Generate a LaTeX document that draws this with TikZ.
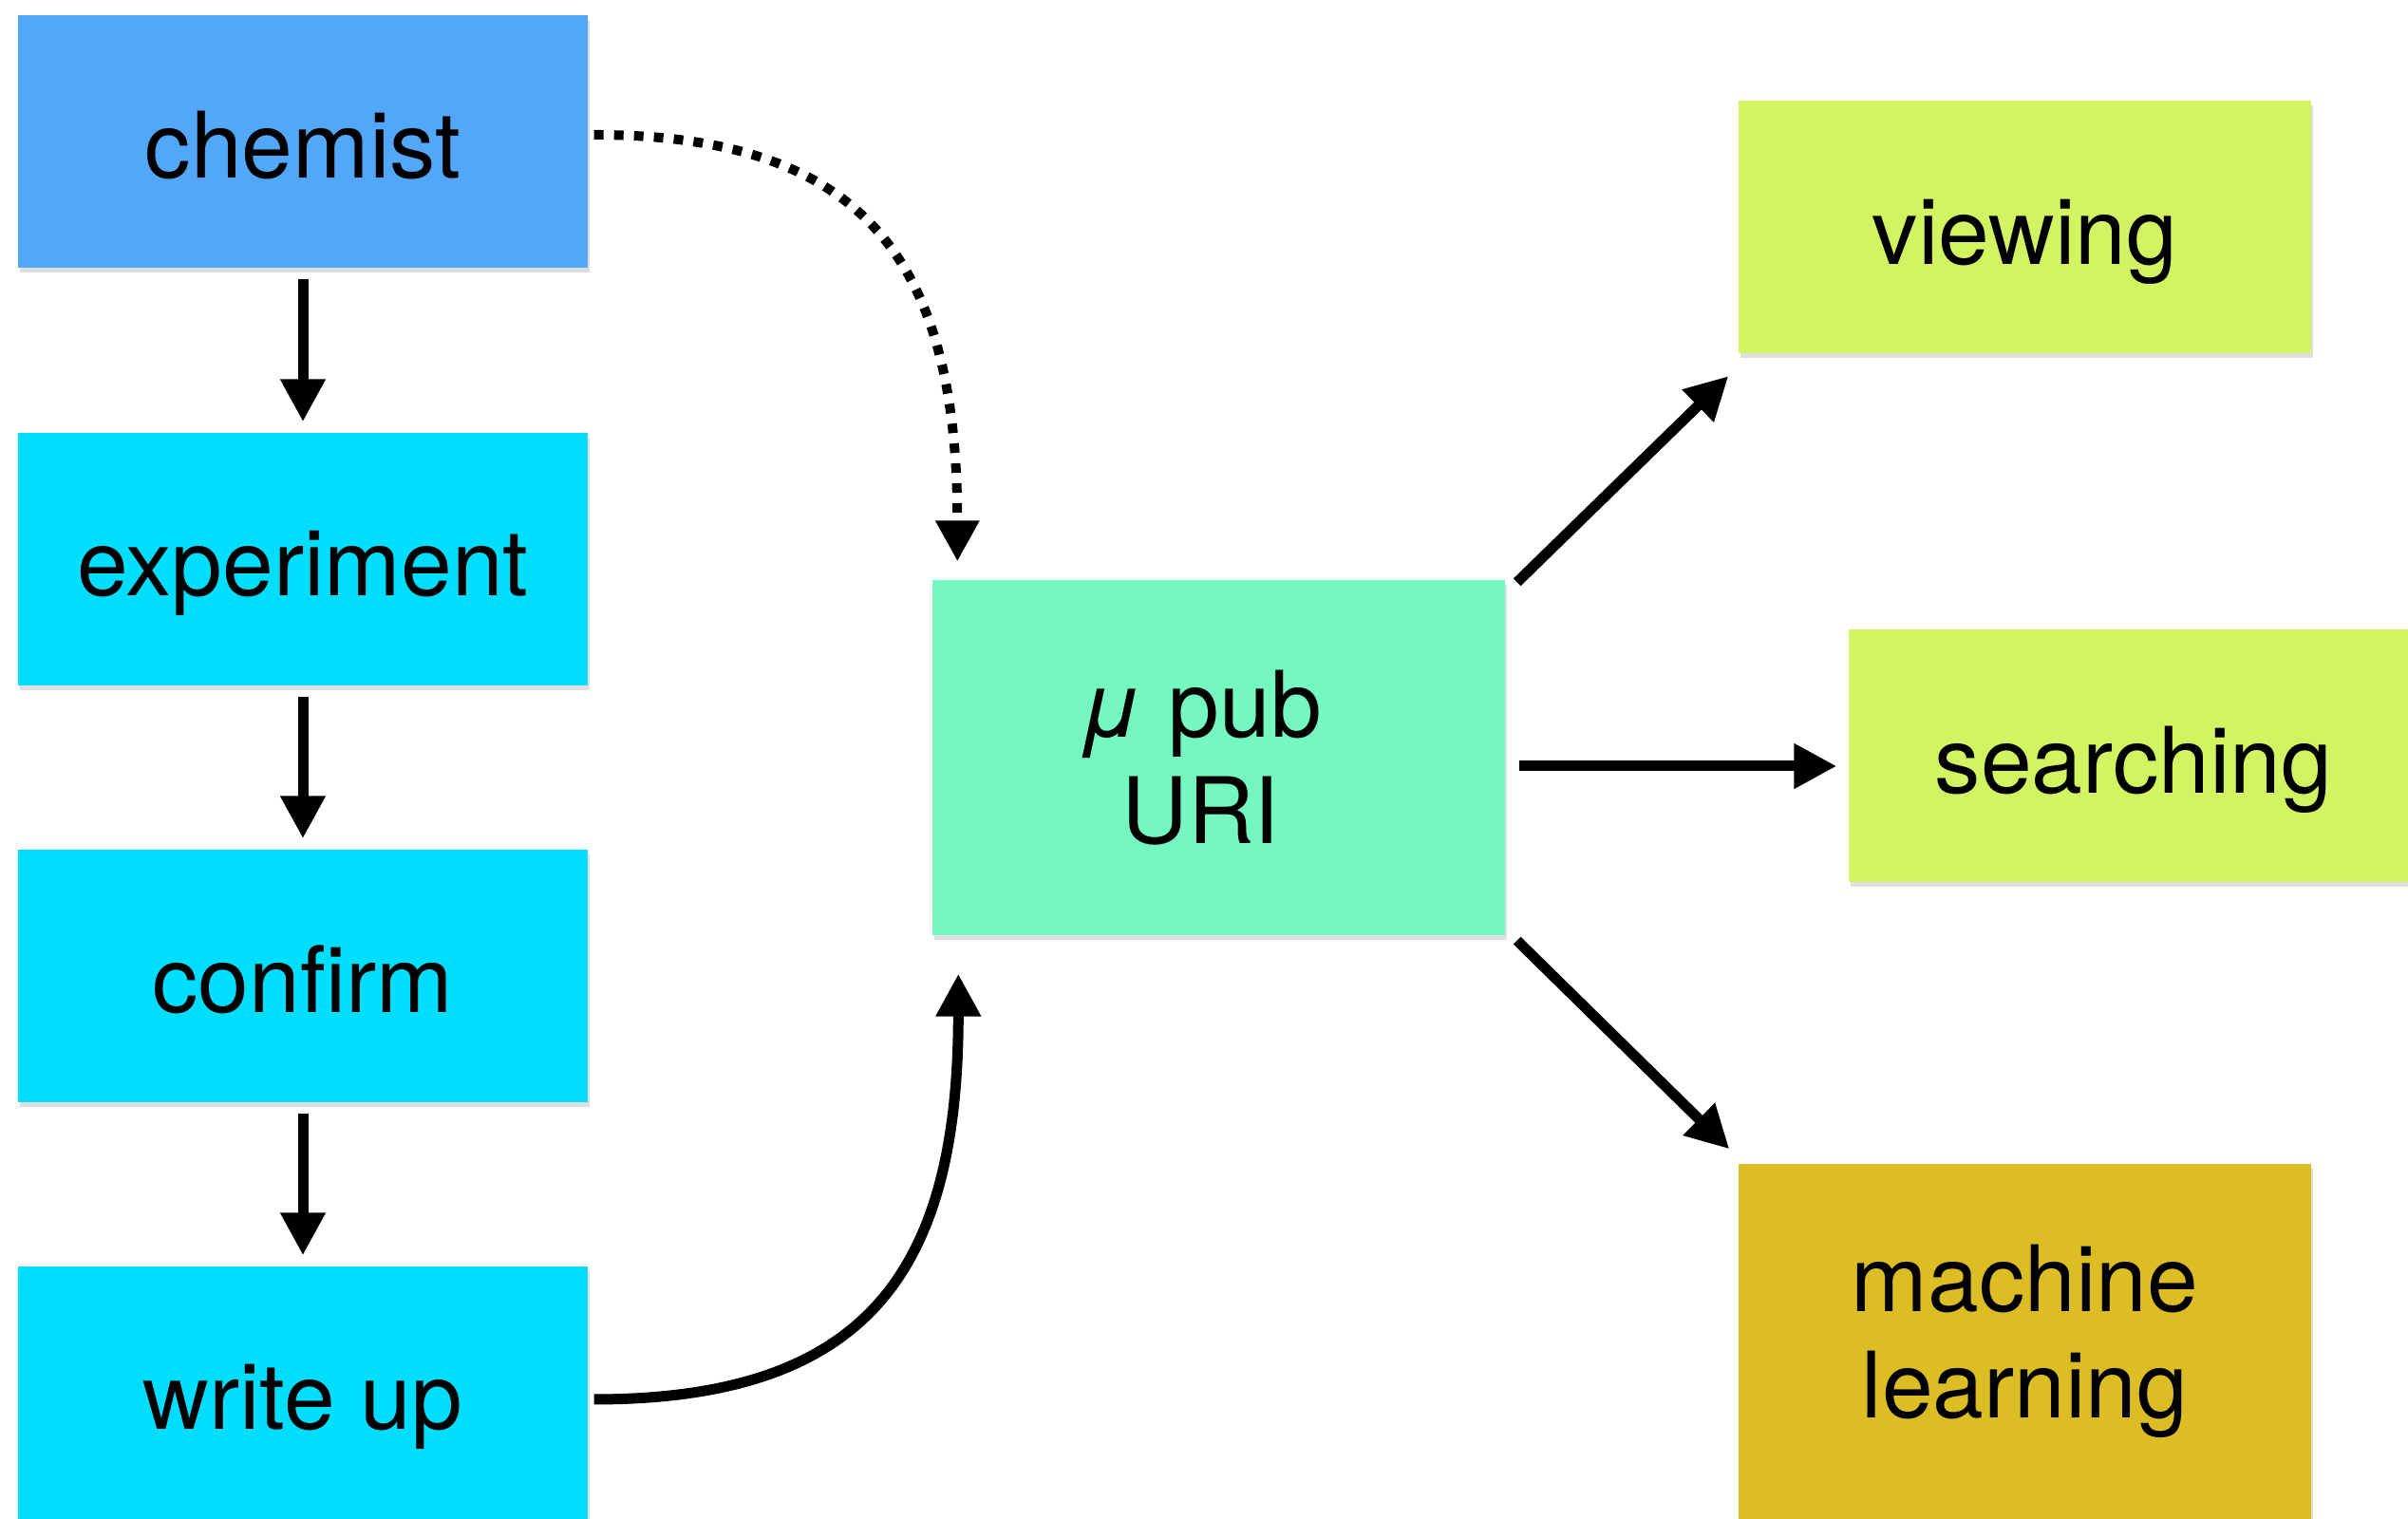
\documentclass[tikz,border=0pt]{standalone}
\usepackage{fontspec}
\setmainfont{TeX Gyre Heros}
\usetikzlibrary{arrows.meta,shadows,calc}
\definecolor{chemblue}{RGB}{82,167,249}
\definecolor{procyan}{RGB}{0,222,255}
\definecolor{pubmint}{RGB}{117,247,192}
\definecolor{uselime}{RGB}{210,244,98}
\definecolor{mlgold}{RGB}{220,190,36}
\begin{document}
\begin{tikzpicture}[
  basebox/.style={rectangle, inner sep=0pt, align=center,
    font=\fontsize{27.5}{32}\selectfont,
    drop shadow={shadow xshift=0.02cm, shadow yshift=-0.05cm, opacity=0.25}},
  box/.style={basebox, minimum width=6.0cm, minimum height=2.66cm,
    text height=0.86cm, text depth=0.08cm},
  tallbox/.style={basebox, minimum width=6.03cm, minimum height=3.74cm},
  conn/.style={line width=0.11cm, -{Triangle[length=0.45cm,width=0.45cm]}},
  dotconn/.style={line width=0.10cm, dash pattern=on 0.10cm off 0.11cm,
    -{Triangle[length=0.43cm,width=0.44cm]}},
]
\useasboundingbox (0,0) rectangle (25.36,16);
\clip (0,0) rectangle (25.36,16);

\node[box, fill=chemblue] (chem) at (3.19,14.51) {chemist};
\node[box, fill=procyan] (exp) at (3.19,10.11) {experiment};
\node[box, fill=procyan] (conf) at (3.19,5.72) {confirm};
\node[box, fill=procyan] (write) at (3.19,1.33) {write up};
\node[tallbox, fill=pubmint] (pub) at (12.835,8.02)
  {\hspace*{-0.38cm}{\itshape μ} pub\\\hspace*{-0.38cm}URI};
\node[box, fill=uselime, minimum width=6.03cm] (view) at (21.325,13.605) {viewing};
\node[box, fill=uselime] (search) at (22.47,8.035) {searching};
\node[tallbox, fill=mlgold] (ml) at (21.325,1.87) {machine\\learning};

\draw[conn, shorten <=0.11cm, shorten >=0.11cm] (chem) -- (exp);
\draw[conn, shorten <=0.11cm, shorten >=0.11cm] (exp) -- (conf);
\draw[conn, shorten <=0.11cm, shorten >=0.11cm] (conf) -- (write);

\draw[dotconn] ($(chem.east)+(0.06,0.07)$)
  .. controls ($(chem.east)+(2.93,0.07)$) and ($(pub.north west)+(0.27,3.33)$)
  .. ($(pub.north west)+(0.27,0.19)$);

\draw[conn] ($(write.east)+(0.06,-0.07)$)
  .. controls ($(write.east)+(2.93,-0.07)$) and ($(pub.south west)+(0.28,-3.54)$)
  .. ($(pub.south west)+(0.28,-0.40)$);

\draw[conn] ($(pub.north east)+(0.12,-0.03)$) -- ($(view.south west)+(-0.10,-0.23)$);
\draw[conn] ($(pub.east)+(0.14,-0.09)$) -- ($(search.west)+(-0.12,-0.105)$);
\draw[conn] ($(pub.south east)+(0.12,-0.05)$) -- ($(ml.north west)+(-0.09,0.15)$);
\end{tikzpicture}
\end{document}
